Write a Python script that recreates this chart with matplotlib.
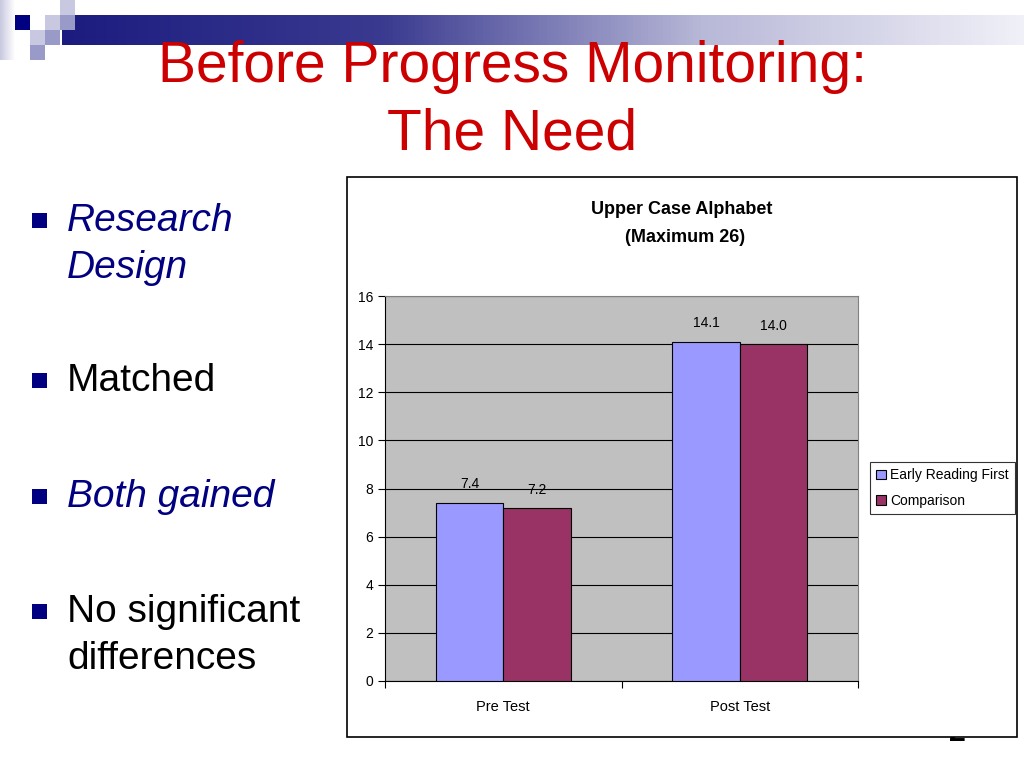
import numpy as np
import matplotlib.pyplot as plt
from matplotlib.patches import Rectangle
from matplotlib.colors import LinearSegmentedColormap

# dati del grafico
categorie = ['Pre Test', 'Post Test']
early_reading = [7.4, 14.1]
comparison = [7.2, 14.0]
etichette_erf = ['7.4', '14.1']
etichette_comp = ['7.2', '14.0']
serie = ['Early Reading First', 'Comparison']
yticks = [0, 2, 4, 6, 8, 10, 12, 14, 16]

W, H = 1024, 768
fig = plt.figure(figsize=(W/100, H/100), dpi=100)
fig.patch.set_facecolor('white')

narrow = ['Liberation Sans Narrow', 'Liberation Sans', 'DejaVu Sans']
arial = ['Liberation Sans', 'DejaVu Sans']

# sfondo della slide in pixel
bg = fig.add_axes([0, 0, 1, 1])
bg.set_xlim(0, W)
bg.set_ylim(H, 0)
bg.axis('off')

# barra sfumata in alto
grad = np.linspace(0, 1, 256).reshape(1, -1)
cmap_bar = LinearSegmentedColormap.from_list('bar', ['#1c1c80', '#3a3a90', '#b8b8d8', '#f0f0f8'])
bg.imshow(grad, extent=(62, W, 45, 15), aspect='auto', cmap=cmap_bar, zorder=1)
# sfumatura a sinistra
cmap_side = LinearSegmentedColormap.from_list('side', ['#c8c8e0', '#ffffff'])
bg.imshow(np.linspace(0, 1, 64).reshape(1, -1), extent=(0, 15, 60, 0), aspect='auto', cmap=cmap_side, zorder=1)

quadrati = [(15, 15, '#000080'), (45, 15, '#c8c8e0'), (60, 15, '#9a9ac8'), (60, 0, '#c8c8e0'),
            (30, 30, '#c8c8e0'), (45, 30, '#9a9ac8'), (30, 45, '#9a9ac8')]
for x0, y0, c in quadrati:
    bg.add_patch(Rectangle((x0, y0), 15, 15, facecolor=c, edgecolor='none', zorder=2))

# titolo
bg.text(512, 82, 'Before Progress Monitoring:', color='#cc0000', fontsize=41,
        family=arial, ha='center', va='baseline', zorder=3)
bg.text(512, 149, 'The Need', color='#cc0000', fontsize=41,
        family=arial, ha='center', va='baseline', zorder=3)

# elenco puntato
punti = [(221, 'Research', True), (381, 'Matched', False), (497, 'Both gained', True),
         (612, 'No significant', False)]
for y, testo, corsivo in punti:
    bg.add_patch(Rectangle((32, y - 8), 15, 15, facecolor='#000080', edgecolor='none', zorder=3))
    bg.text(67, y, testo, fontsize=28, family=arial, va='center', ha='left',
            style='italic' if corsivo else 'normal', color='#000080' if corsivo else 'black')
bg.text(67, 268, 'Design', fontsize=28, family=arial, va='center', style='italic', color='#000080')
bg.text(67, 659, 'differences', fontsize=28, family=arial, va='center', color='black')

# numero pagina (in parte coperto dal riquadro)
bg.text(957, 741, '2', fontsize=22, fontweight='bold', family=arial, ha='center', va='baseline', zorder=1)

# riquadro del grafico
bg.add_patch(Rectangle((347, 177), 1017 - 347, 737 - 177, facecolor='white', edgecolor='black',
                       linewidth=1.2, zorder=4))

bg.text(682, 209, 'Upper Case Alphabet', fontsize=13, fontweight='bold', family=narrow,
        ha='center', va='center', zorder=5)
bg.text(685, 238, '(Maximum 26)', fontsize=13, fontweight='bold', family=narrow,
        ha='center', va='center', zorder=5)

# area del grafico
ax = fig.add_axes([385/W, 1 - 681/H, (858 - 385)/W, (681 - 296)/H])
ax.set_zorder(5)
ax.set_facecolor('#c0c0c0')
x = np.arange(len(categorie))
w = 1/3.5
b1 = ax.bar(x - w/2, early_reading, w, color='#9999ff', edgecolor='black', linewidth=0.8,
            label=serie[0], zorder=3)
b2 = ax.bar(x + w/2, comparison, w, color='#993366', edgecolor='black', linewidth=0.8,
            label=serie[1], zorder=3)
for i in range(len(categorie)):
    ax.text(x[i] - w/2, early_reading[i] + 0.5, etichette_erf[i], ha='center', va='bottom',
            fontsize=10, family=narrow)
    ax.text(x[i] + w/2, comparison[i] + 0.45, etichette_comp[i], ha='center', va='bottom',
            fontsize=10, family=narrow)

ax.set_xlim(-0.5, len(categorie) - 0.5)
ax.set_ylim(0, 16)
ax.set_yticks(yticks)
ax.yaxis.grid(True, color='black', linewidth=0.8, zorder=0)
ax.set_axisbelow(True)
ax.set_xticks(x)
ax.set_xticklabels(categorie, family=narrow, fontsize=10.5)
ax.set_xticks(np.arange(-0.5, len(categorie)), minor=True)
ax.tick_params(axis='x', which='major', length=0, pad=14)
ax.tick_params(axis='x', which='minor', length=5, direction='out', width=0.8)
ax.tick_params(axis='y', length=5, direction='out', width=0.8, labelsize=10)
for lab in ax.get_yticklabels():
    lab.set_family(narrow)
for s in ['top', 'right']:
    ax.spines[s].set_color('#808080')
for s in ['left', 'bottom']:
    ax.spines[s].set_color('black')

leg = fig.legend(handles=[b1, b2], loc='upper left', bbox_to_anchor=(870/W, 1 - 462/H),
                 frameon=True, fancybox=False, edgecolor='black', borderaxespad=0,
                 handlelength=0.7, handleheight=0.7, handletextpad=0.3, borderpad=0.45,
                 labelspacing=0.85, prop={'family': narrow, 'size': 10})
leg.get_frame().set_linewidth(0.8)
leg.set_zorder(6)

fig.savefig('out.png', dpi=100)
